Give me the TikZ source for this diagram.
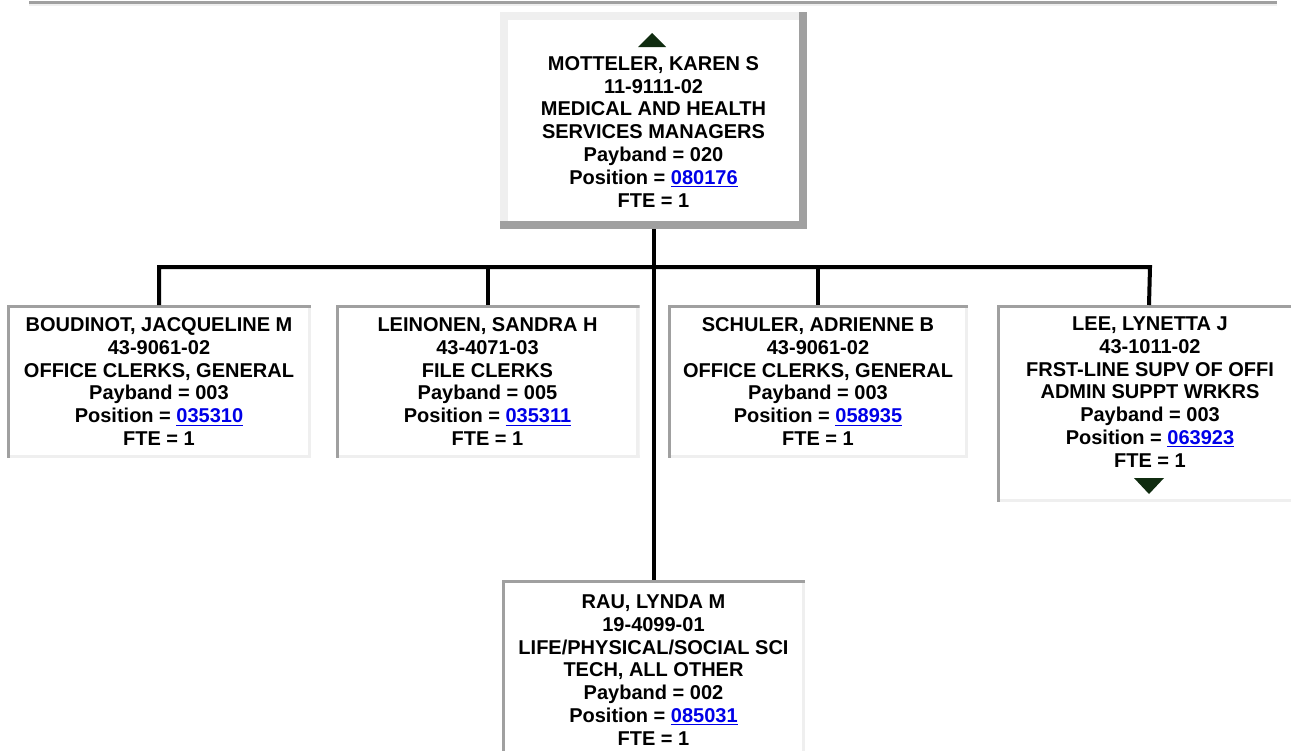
\documentclass[tikz,border=0pt]{standalone}
\usepackage{fontspec}
\setmainfont{Liberation Sans}
\usetikzlibrary{calc}
\definecolor{darkrim}{RGB}{160,160,160}
\definecolor{literim}{RGB}{239,239,239}
\definecolor{linkblue}{RGB}{0,0,232}
\definecolor{arrowgreen}{RGB}{16,44,16}
\newcommand{\poslink}[1]{{\color{linkblue}\underline{#1}}}
\tikzset{
  card/.style={fill=white, inner sep=0pt, outer sep=0pt, align=center,
    font=\bfseries\fontsize{15pt}{17.1pt}\selectfont},
  inset/.style={card, minimum width=228pt, minimum height=114.75pt,
    path picture={
      \fill[literim] (path picture bounding box.south west) rectangle ([yshift=2.6pt]path picture bounding box.south east);
      \fill[literim] ([xshift=-2.6pt]path picture bounding box.south east) rectangle (path picture bounding box.north east);
      \fill[darkrim] ([yshift=-2.6pt]path picture bounding box.north west) rectangle (path picture bounding box.north east);
      \fill[darkrim] (path picture bounding box.south west) rectangle ([xshift=2.6pt]path picture bounding box.north west);
    }},
  outset/.style={card,
    path picture={
      \fill[darkrim] (path picture bounding box.south west) rectangle ([yshift=6pt]path picture bounding box.south east);
      \fill[darkrim] ([xshift=-6pt]path picture bounding box.south east) rectangle (path picture bounding box.north east);
      \fill[literim] ([yshift=-6pt]path picture bounding box.north west) rectangle ([xshift=-6pt]path picture bounding box.north east);
      \fill[literim] ([yshift=6pt]path picture bounding box.south west) rectangle ([xshift=6pt]path picture bounding box.north west);
    }},
  conn/.style={line width=3pt, line join=miter},
  flag/.style={fill=arrowgreen}
}
\begin{document}
\begin{tikzpicture}[x=0.75pt, y=-0.75pt]
    \useasboundingbox (0,0) rectangle (1291,750);
    \fill[darkrim] (29,1) rectangle (1277,4);
    \fill[literim] (29,4) rectangle (1277,5.5);
    \node[outset, minimum width=230.25pt, minimum height=162.75pt, anchor=north] (boss) at (653.5,12)
        {\vphantom{M}\\MOTTELER, KAREN S\\11-9111-02\\MEDICAL AND HEALTH\\SERVICES MANAGERS\\Payband = 020\\Position = \poslink{080176}\\FTE = 1};
    \node[inset, anchor=north] (boud) at (159,305)
        {BOUDINOT, JACQUELINE M\\43-9061-02\\OFFICE CLERKS, GENERAL\\Payband = 003\\Position = \poslink{035310}\\FTE = 1};
    \node[inset, anchor=north] (lein) at (487.5,305)
        {LEINONEN, SANDRA H\\43-4071-03\\FILE CLERKS\\Payband = 005\\Position = \poslink{035311}\\FTE = 1};
    \node[inset, minimum width=225pt, anchor=north] (schu) at (818,305)
        {SCHULER, ADRIENNE B\\43-9061-02\\OFFICE CLERKS, GENERAL\\Payband = 003\\Position = \poslink{058935}\\FTE = 1};
    \node[inset, minimum width=229.5pt, minimum height=147.75pt, anchor=north] (lee) at (1150,305)
        {LEE, LYNETTA J\\43-1011-02\\FRST-LINE SUPV OF OFFI\\ADMIN SUPPT WRKRS\\Payband = 003\\Position = \poslink{063923}\\FTE = 1\\\mbox{}};
    \node[inset, minimum width=227.25pt, minimum height=135pt, anchor=north] (rau) at (653.5,580)
        {RAU, LYNDA M\\19-4099-01\\LIFE/PHYSICAL/SOCIAL SCI\\TECH, ALL OTHER\\Payband = 002\\Position = \poslink{085031}\\FTE = 1};
    \fill[flag] ($(boss.north)+(-1.5,21)$) -- ($(boss.north)+(12.5,35)$) -- ($(boss.north)+(-15.5,35)$) -- cycle;
    \fill[flag] ($(lee.south)+(-1,-8)$) -- ($(lee.south)+(14,-24)$) -- ($(lee.south)+(-16,-24)$) -- cycle;
    \coordinate (bar) at (654,267);
    \draw[conn] (boss.south -| bar) -- (rau.north -| bar);
    \draw[conn] (boud.north) -- (boud.north |- bar) -- (lee.north |- bar) -- ([xshift=-0.75pt]lee.north);
    \draw[conn] (lein.north) -- (lein.north |- bar);
    \draw[conn] (schu.north) -- (schu.north |- bar);
\end{tikzpicture}
\end{document}
